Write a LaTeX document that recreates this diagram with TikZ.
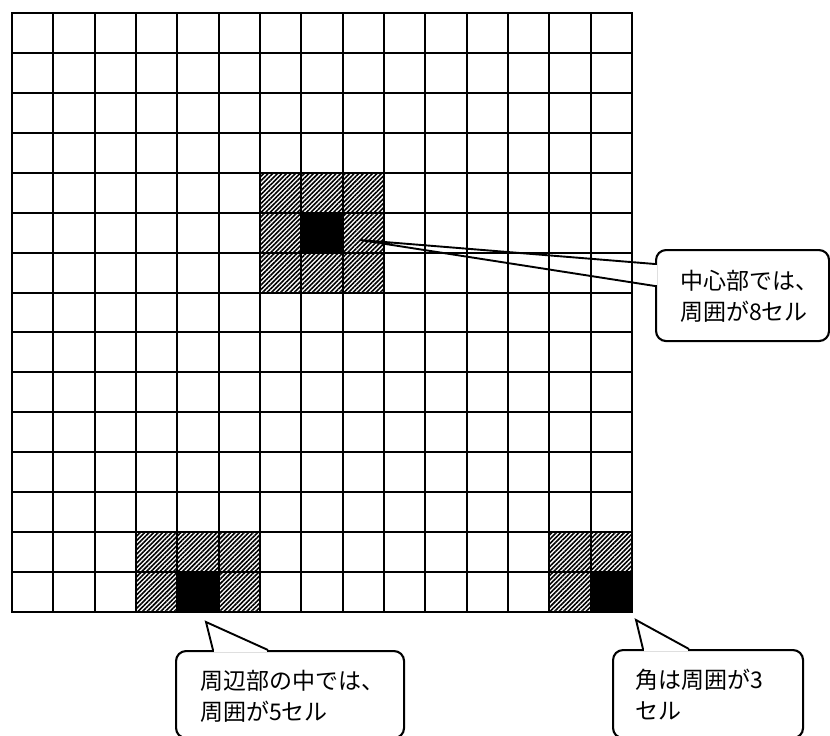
\documentclass[tikz,border=0pt]{standalone}
\usepackage{fontspec}
\newfontfamily\jpfont{Noto Sans CJK JP}
\usetikzlibrary{patterns.meta,calc}
\begin{document}
\begin{tikzpicture}[x=1pt,y=-1pt,
  hatch/.style={pattern={Lines[angle=45,distance=3.2pt,line width=1.6pt]},pattern color=black},
  solidcell/.style={fill=black},
  gridline/.style={line width=2pt,line cap=rect},
  calloutbox/.style={draw,line width=2.1pt,rounded corners=10pt,fill=white,inner sep=0pt,anchor=north west},
  pointer/.style={line width=1.9pt,line join=miter},
  labeltext/.style={font=\jpfont\fontsize{23}{31}\selectfont,align=left,anchor=north west,inner sep=0pt}]
\useasboundingbox (0,0) rectangle (830,736);
\def\cw{41.333}
\def\ch{39.933}
\def\gx#1{round(12+(#1)*\cw)}
\def\gy#1{round(13+(#1)*\ch)}
% hatched neighbour cells
\foreach \i/\j in {6/4,7/4,8/4,6/5,8/5,6/6,7/6,8/6,
                   3/13,4/13,5/13,3/14,5/14,
                   13/13,14/13,13/14}
  \fill[hatch] ({\gx{\i}},{\gy{\j}}) rectangle ({\gx{\i+1}},{\gy{\j+1}});
% black target cells
\foreach \i/\j in {7/5,4/14,14/14}
  \fill[solidcell] ({\gx{\i}},{\gy{\j}}) rectangle ({\gx{\i+1}},{\gy{\j+1}});
% grid lines
\foreach \i in {0,...,15}
  \draw[gridline] ({\gx{\i}},13) -- ({\gx{\i}},612);
\foreach \j in {0,...,15}
  \draw[gridline] (12,{\gy{\j}}) -- (632,{\gy{\j}});

% callout 1
\node[calloutbox,minimum width=173pt,minimum height=91pt] (c1) at (655,249) {};
\coordinate (tip1) at (360,240);
\coordinate (b1a) at ($(c1.north west)+(0,15)$);
\coordinate (b1b) at ($(c1.north west)+(0,37)$);
\fill[white] ($(b1a)+(-1.6,1.3)$) rectangle ($(b1b)+(1.6,-1.3)$);
\draw[pointer] (b1a) -- (tip1) -- (b1b);
\node[labeltext] (t1) at (680,270) {中心部では、\\周囲が8セル};

% callout 2
\node[calloutbox,minimum width=228pt,minimum height=87pt] (c2) at (175,650) {};
\coordinate (tip2) at (206,622);
\coordinate (b2a) at ($(c2.north west)+(38,0)$);
\coordinate (b2b) at ($(c2.north west)+(93,0)$);
\fill[white] ($(b2a)+(1.3,-1.6)$) rectangle ($(b2b)+(-1.3,1.6)$);
\draw[pointer] (b2a) -- (tip2) -- (b2b);
\node[labeltext] (t2) at (200,670) {周辺部の中では、\\周囲が5セル};

% callout 3
\node[calloutbox,minimum width=190pt,minimum height=88pt] (c3) at (612,649) {};
\coordinate (tip3) at (636,620);
\coordinate (b3a) at ($(c3.north west)+(31,0)$);
\coordinate (b3b) at ($(c3.north west)+(77,0)$);
\fill[white] ($(b3a)+(1.3,-1.6)$) rectangle ($(b3b)+(-1.3,1.6)$);
\draw[pointer] (b3a) -- (tip3) -- (b3b);
\node[labeltext] (t3) at (635,669) {角は周囲が3\\セル};
\end{tikzpicture}
\end{document}
